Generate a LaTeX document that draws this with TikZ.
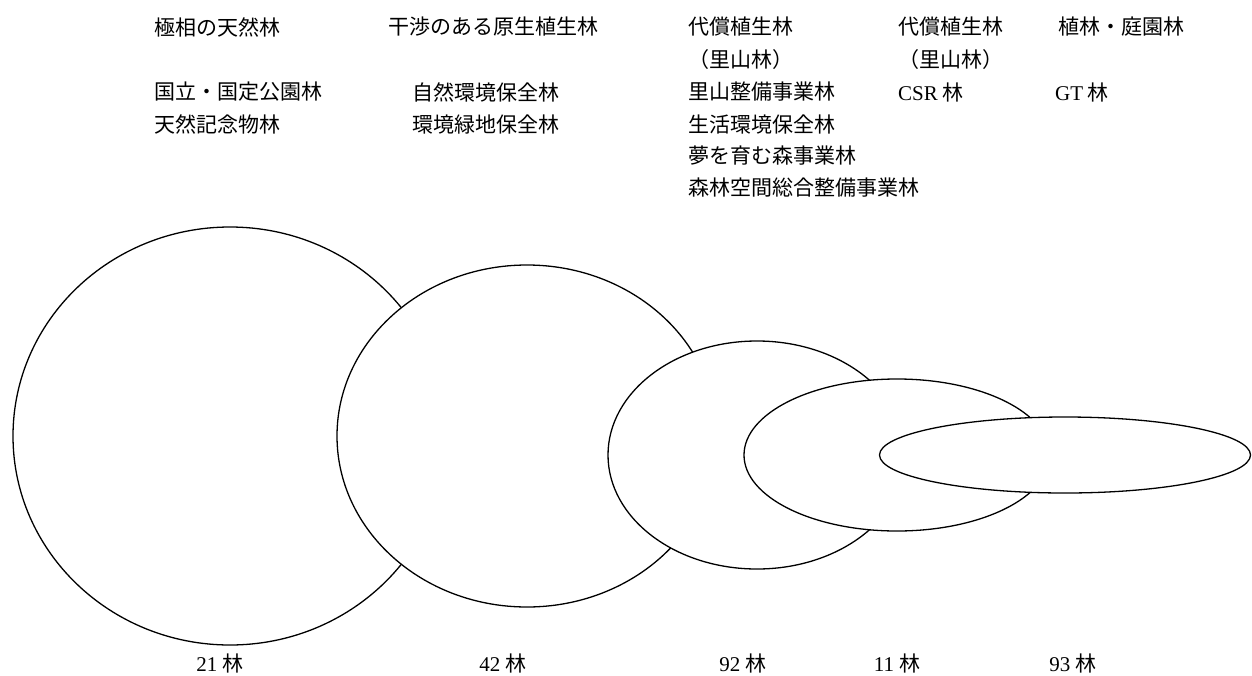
\documentclass[tikz,border=0pt]{standalone}
\usepackage{fontspec}
\setmainfont{Liberation Serif}
\newfontfamily\jp{Noto Sans CJK JP}
\usetikzlibrary{shapes.geometric}
\begin{document}
\begin{tikzpicture}[x=1pt,y=-1pt,
  blob/.style={ellipse,draw,fill=white,line width=1.3pt,inner sep=0pt,outer sep=0pt},
  lbl/.style={anchor=west,inner sep=0pt,font=\fontsize{21}{24}\selectfont\jp},
  cnt/.style={inner sep=0pt,font=\fontsize{21}{24}\selectfont}]
\useasboundingbox (0,0) rectangle (1252,675);
% ellipses (later ones on top)
\node[blob,minimum width=434pt,minimum height=418pt] (e1) at (230,436) {};
\node[blob,minimum width=380pt,minimum height=342pt] (e2) at (527,436) {};
\node[blob,minimum width=298pt,minimum height=228pt] (e3) at (757,455) {};
\node[blob,minimum width=306pt,minimum height=152pt] (e4) at (897,455) {};
\node[blob,minimum width=371pt,minimum height=76pt] (e5) at (1065,455) {};
% top texts
\node[lbl] (t11) at (154,27) {極相の天然林};
\node[lbl] (t12) at (154,92) {国立・国定公園林};
\node[lbl] (t13) at (154,124) {天然記念物林};
\node[lbl] (t21) at (388,27) {干渉のある原生植生林};
\node[lbl] (t22) at (412,92) {自然環境保全林};
\node[lbl] (t23) at (412,124) {環境緑地保全林};
\node[lbl] (t31) at (688,27) {代償植生林};
\node[lbl] (t32) at (688,60) {（里山林）};
\node[lbl] (t33) at (688,92) {里山整備事業林};
\node[lbl] (t34) at (688,124) {生活環境保全林};
\node[lbl] (t35) at (688,156) {夢を育む森事業林};
\node[lbl] (t36) at (688,188) {森林空間総合整備事業林};
\node[lbl] (t41) at (898,27) {代償植生林};
\node[lbl] (t42) at (898,60) {（里山林）};
\node[lbl] (t43) at (898,92) {{\rmfamily CSR} 林};
\node[lbl] (t51) at (1058,27) {植林・庭園林};
\node[lbl] (t52) at (1055,92) {{\rmfamily GT} 林};
% counts
\node[cnt] (c1) at (220,663) {21 {\jp 林}};
\node[cnt] (c2) at (503,663) {42 {\jp 林}};
\node[cnt] (c3) at (743,663) {92 {\jp 林}};
\node[cnt] (c4) at (897,663) {11 {\jp 林}};
\node[cnt] (c5) at (1073,663) {93 {\jp 林}};
\end{tikzpicture}
\end{document}
